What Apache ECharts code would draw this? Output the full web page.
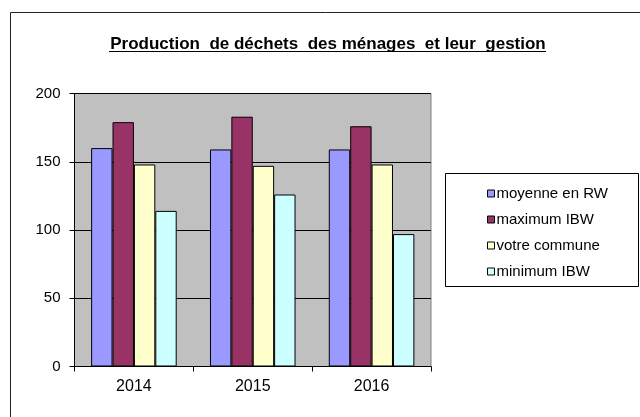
<!DOCTYPE html>
<html>
<head>
  <meta charset="utf-8">
  <script src="https://cdn.jsdelivr.net/npm/echarts@6/dist/echarts.min.js"></script>
</head>
<body style="margin:0;background:#fff;">
    <div id="main" style="width:640px;height:417px;"></div>

<script type="text/javascript">
var years = ['2014', '2015', '2016'];
var seriesNames = ['moyenne en RW', 'maximum IBW', 'votre commune', 'minimum IBW'];
var moyenneRW = [160, 159, 159];
var maximumIBW = [179, 183, 176];
var votreCommune = [148, 147, 148];
var minimumIBW = [114, 126, 97];
var colors = ['#9999FF', '#993366', '#FFFFCC', '#CCFFFF'];

var values = [moyenneRW, maximumIBW, votreCommune, minimumIBW];
var makeSeries = function () {
    var res = [];
    for (var i = 0; i < seriesNames.length; i++) {
        res.push({
            name: seriesNames[i],
            type: 'bar',
            barGap: '0%',
            barCategoryGap: '28%',
            itemStyle: {
                color: colors[i],
                borderColor: '#000',
                borderWidth: 1
            },
            data: values[i]
        });
    }
    return res;
};

var myChart = echarts.init(document.getElementById('main'));
myChart.setOption({
    animation: false,
    title: {
        text: 'Production  de déchets  des ménages  et leur  gestion',
        left: 323,
        top: 31,
        textAlign: 'center',
        textStyle: {
            fontFamily: 'Liberation Sans, Arial',
            fontSize: 17,
            fontWeight: 'bold',
            color: '#000'
        }
    },
    graphic: [
        {
            type: 'rect',
            shape: {x: 10.5, y: 12.5, width: 700, height: 500},
            style: {fill: 'none', stroke: '#222', lineWidth: 1},
            silent: true
        },
        {
            type: 'line',
            shape: {x1: 109, y1: 51.5, x2: 546, y2: 51.5},
            style: {stroke: '#000', lineWidth: 1}
        },
        {
            type: 'rect',
            shape: {x: 445.5, y: 173.5, width: 193, height: 113},
            style: {fill: '#fff', stroke: '#000', lineWidth: 1},
            z: -1
        }
    ],
    legend: {
        orient: 'vertical',
        left: 482,
        top: 181,
        itemWidth: 7,
        itemHeight: 7,
        itemGap: 11,
        icon: 'rect',
        textStyle: {
            fontFamily: 'Liberation Sans, Arial',
            fontSize: 15,
            color: '#000',
            padding: [0, 0, 0, -3]
        },
        itemStyle: {borderColor: '#000', borderWidth: 1},
        data: seriesNames
    },
    grid: {
        left: 74.5,
        right: 209,
        top: 93.5,
        bottom: 50.5,
        show: true,
        backgroundColor: '#C0C0C0',
        borderColor: '#808080',
        borderWidth: 1
    },
    xAxis: {
        type: 'category',
        data: years,
        axisLine: {lineStyle: {color: '#000', width: 1}},
        axisTick: {show: true, length: 5, lineStyle: {color: '#000'}},
        axisLabel: {
            margin: 12,
            fontFamily: 'Liberation Sans, Arial',
            fontSize: 16,
            color: '#000'
        }
    },
    yAxis: {
        type: 'value',
        min: 0,
        max: 200,
        interval: 50,
        axisLine: {show: true, lineStyle: {color: '#000', width: 1}},
        axisTick: {show: true, length: 5, lineStyle: {color: '#000'}},
        splitLine: {show: true, lineStyle: {color: '#000', width: 1}},
        axisLabel: {
            margin: 14,
            fontFamily: 'Liberation Sans, Arial',
            fontSize: 15,
            color: '#000'
        }
    },
    series: makeSeries()
});
</script>
</body>
</html>
